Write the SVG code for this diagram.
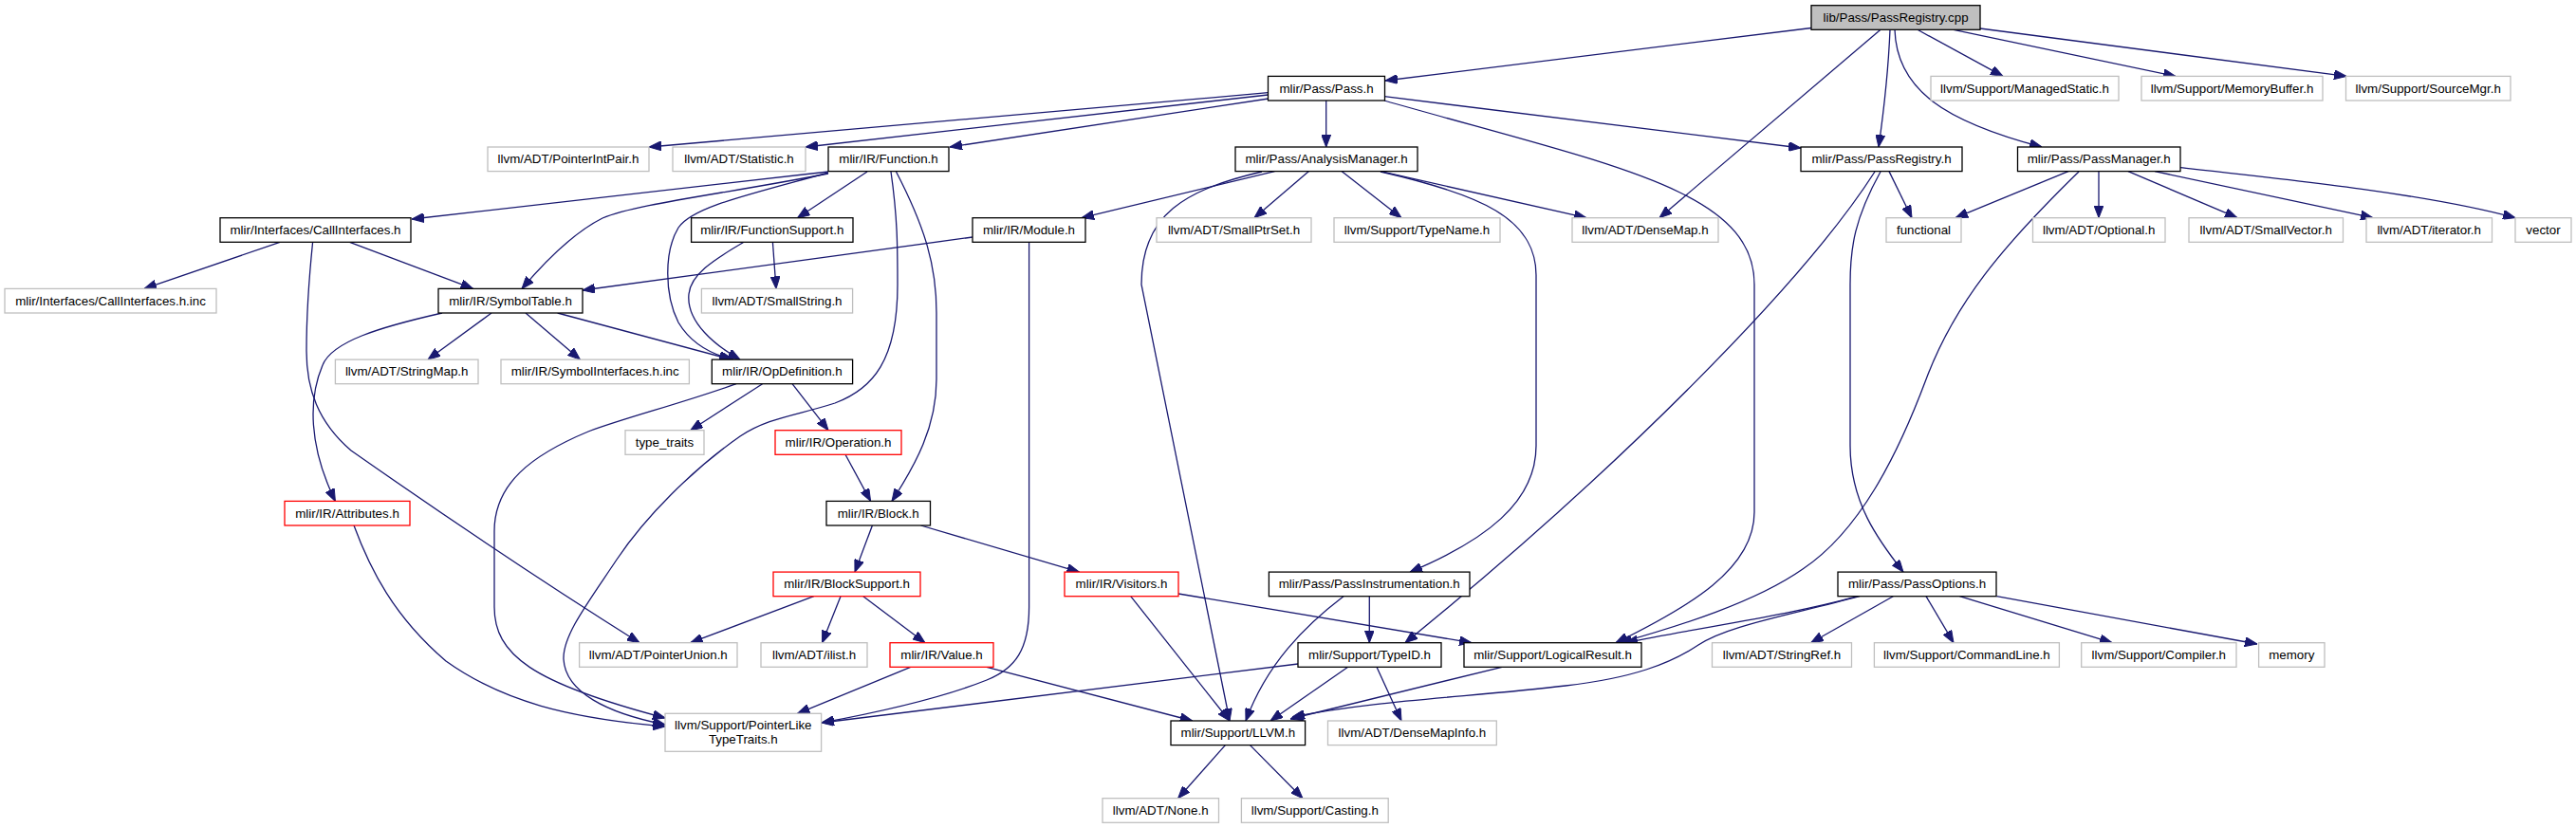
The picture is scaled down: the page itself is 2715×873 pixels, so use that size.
<svg xmlns="http://www.w3.org/2000/svg" width="2715" height="873" viewBox="0 0 2715 873">
<style>
rect{fill:#fff;stroke:#000;stroke-width:1.3}
.ext rect{stroke:#bfbfbf}
.red rect{stroke:#ff0000}
.root rect{fill:#bfbfbf;stroke:#000}
text{font-family:"Liberation Sans",Arial,Helvetica,sans-serif;font-size:13.33px;text-anchor:middle;fill:#000}
#edges path{fill:none;stroke:#191970;stroke-width:1.3;marker-end:url(#ah)}
</style>
<defs>
<marker id="ah" viewBox="0 0 13 10" refX="13" refY="5" markerWidth="13" markerHeight="10" markerUnits="userSpaceOnUse" orient="auto">
<path d="M0,0 L13,5 L0,10 z" fill="#191970" stroke="#191970" stroke-width="1"/>
</marker>
</defs>
<rect x="0" y="0" width="2715" height="873" style="fill:#fff;stroke:none"/>
<g id="edges">
<path d="M1909,29.5 L1460,85"/>
<path d="M1982,31.3 L1749,229.7"/>
<path d="M1992,31.3 C1990,80 1985,120 1980,155"/>
<path d="M1997,31.3 C1999,95 2050,128 2152,155"/>
<path d="M2021,31.3 L2111,80.4"/>
<path d="M2059,31.3 L2293,80.4"/>
<path d="M2087,30 L2473,80.4"/>
<path d="M1336.5,97.7 L684,155"/>
<path d="M1336.5,100 L849,155"/>
<path d="M1337,104 L1001,155"/>
<path d="M1397.7,106 L1397.7,155"/>
<path d="M1459,101.7 L1898,156"/>
<path d="M1459,106 C1700,175 1849,200 1849,300 L1849,540 C1849,600 1780,640 1703,677.7"/>
<path d="M1343.5,180.6 L1140,229.7"/>
<path d="M1379.5,180.6 L1322,229.7"/>
<path d="M1414,180.6 L1477,229.7"/>
<path d="M1455,180.6 L1672,229.7"/>
<path d="M1455,181 C1560,205 1619,230 1619,290 L1619,470 C1619,530 1565,570 1486,603.1"/>
<path d="M1330,181 C1250,200 1203,225 1203,300 L1296,760"/>
<path d="M1991,180.6 L2015,229.7"/>
<path d="M1976,181 C1900,300 1700,500 1481,677.7"/>
<path d="M1982,181 C1955,230 1950,260 1950,300 L1950,470 C1950,530 1980,570 2006,603.1"/>
<path d="M2180,180.6 L2061,229.7"/>
<path d="M2212,180.6 L2212,229.7"/>
<path d="M2243,180.6 L2358,229.7"/>
<path d="M2271,180.6 L2501,229.7"/>
<path d="M2298,176.7 C2420,190 2560,205 2651,229.7"/>
<path d="M2191,181 C2110,260 2060,320 2030,400 C2000,480 1960,560 1900,600 C1850,635 1770,660 1707,677.7"/>
<path d="M873,181 L434,231"/>
<path d="M873,183 C760,205 670,215 635,230 C605,245 575,275 550,304.4"/>
<path d="M873,182 C790,205 730,218 715,240 C700,265 700,310 715,340 C730,365 755,375 773,379.1"/>
<path d="M914,181 L840.5,229.7"/>
<path d="M944.5,181 C975,240 987,280 987,330 L987,400 C987,450 965,490 940,528.4"/>
<path d="M939,181 C946,230 946,260 946,300 C946,380 920,410 880,425 C840,438 810,440 780,460 C730,495 680,545 650,590 C620,635 593,670 594,695 C596,730 640,752 701,764"/>
<path d="M295,255.3 L152,304.4"/>
<path d="M368.6,255.3 L498.7,304.4"/>
<path d="M329.6,255.3 C325,300 323,340 323,370 C323,410 335,445 370,475 C470,545 590,625 674,677.7"/>
<path d="M784,255.3 C750,275 728,290 726,310 C723,340 755,365 780,379.1"/>
<path d="M814.4,255.3 L818,304.4"/>
<path d="M1025,250 L614,306"/>
<path d="M1084.6,255.3 L1084.6,640 C1084.6,685 1070,705 1040,717 C990,737 920,752 866,762"/>
<path d="M466,330 C400,345 350,360 340,385 C325,420 325,470 353.4,528.4"/>
<path d="M518,330 L451,379.1"/>
<path d="M554,330 L611.4,379.1"/>
<path d="M587.6,330 L771,379.1"/>
<path d="M803.6,404.7 L727.7,453.7"/>
<path d="M835,404.7 L873,453.7"/>
<path d="M776,404.7 C720,425 660,440 620,455 C560,480 521,510 521,560 L521,640 C521,690 560,720 701,757"/>
<path d="M891,479.3 L917.6,528.4"/>
<path d="M373,554 C390,600 415,650 470,697 C530,740 600,757 701,766"/>
<path d="M919.4,554 L901,603.1"/>
<path d="M970.5,554 L1137.5,603.1"/>
<path d="M857.8,628.7 L727.7,677.7"/>
<path d="M886,628.7 L866.5,677.7"/>
<path d="M909.8,628.7 L974.9,677.7"/>
<path d="M959.7,703.3 L840.5,752.3"/>
<path d="M1040,703.3 L1256.7,760"/>
<path d="M1191.7,628.7 L1295.8,760"/>
<path d="M1242,626 L1551,677.7"/>
<path d="M1443.3,628.7 L1443.3,677.7"/>
<path d="M1416,628.7 C1375,660 1335,700 1313,760"/>
<path d="M1420.7,703.3 L1339,760"/>
<path d="M1451,703.3 L1477,760"/>
<path d="M1368,700 L866,762"/>
<path d="M1583,703.3 L1360,758"/>
<path d="M1958,628.7 C1880,650 1800,660 1713,677.7"/>
<path d="M1960,628.7 C1880,650 1820,660 1790,680 C1760,700 1720,715 1650,723 C1550,735 1450,738 1362,756"/>
<path d="M1995.3,628.7 L1908.6,677.7"/>
<path d="M2030,628.7 L2059,677.7"/>
<path d="M2065.4,628.7 L2226,677.7"/>
<path d="M2104.4,628.7 L2379,679"/>
<path d="M1291.4,785.6 L1241.6,841.7"/>
<path d="M1317.5,785.6 L1373,841.7"/>
</g>
<g id="n_cpp" class="root"><rect x="1909" y="5.7" width="178" height="25.6"/><text x="1998" y="22.9">lib/Pass/PassRegistry.cpp</text></g>
<g id="n_pass"><rect x="1336.5" y="80.4" width="123" height="25.6"/><text x="1398" y="97.6">mlir/Pass/Pass.h</text></g>
<g id="n_managed" class="ext"><rect x="2035" y="80.4" width="198" height="25.6"/><text x="2134" y="97.6">llvm/Support/ManagedStatic.h</text></g>
<g id="n_membuf" class="ext"><rect x="2257" y="80.4" width="191" height="25.6"/><text x="2352.5" y="97.6">llvm/Support/MemoryBuffer.h</text></g>
<g id="n_srcmgr" class="ext"><rect x="2472.5" y="80.4" width="173.5" height="25.6"/><text x="2559.2" y="97.6">llvm/Support/SourceMgr.h</text></g>
<g id="n_pip" class="ext"><rect x="514" y="155" width="170" height="25.6"/><text x="599" y="172.2">llvm/ADT/PointerIntPair.h</text></g>
<g id="n_stat" class="ext"><rect x="709" y="155" width="140" height="25.6"/><text x="779" y="172.2">llvm/ADT/Statistic.h</text></g>
<g id="n_func"><rect x="873" y="155" width="127" height="25.6"/><text x="936.5" y="172.2">mlir/IR/Function.h</text></g>
<g id="n_am"><rect x="1302" y="155" width="192" height="25.6"/><text x="1398" y="172.2">mlir/Pass/AnalysisManager.h</text></g>
<g id="n_preg"><rect x="1898" y="155" width="170" height="25.6"/><text x="1983" y="172.2">mlir/Pass/PassRegistry.h</text></g>
<g id="n_pm"><rect x="2126.5" y="155" width="171.5" height="25.6"/><text x="2212.2" y="172.2">mlir/Pass/PassManager.h</text></g>
<g id="n_ci"><rect x="232" y="229.7" width="201" height="25.6"/><text x="332.5" y="246.9">mlir/Interfaces/CallInterfaces.h</text></g>
<g id="n_fs"><rect x="728.6" y="229.7" width="170.4" height="25.6"/><text x="813.8" y="246.9">mlir/IR/FunctionSupport.h</text></g>
<g id="n_mod"><rect x="1025" y="229.7" width="119" height="25.6"/><text x="1084.5" y="246.9">mlir/IR/Module.h</text></g>
<g id="n_sps" class="ext"><rect x="1219" y="229.7" width="163" height="25.6"/><text x="1300.5" y="246.9">llvm/ADT/SmallPtrSet.h</text></g>
<g id="n_tn" class="ext"><rect x="1406" y="229.7" width="175" height="25.6"/><text x="1493.5" y="246.9">llvm/Support/TypeName.h</text></g>
<g id="n_dm" class="ext"><rect x="1657" y="229.7" width="154" height="25.6"/><text x="1734" y="246.9">llvm/ADT/DenseMap.h</text></g>
<g id="n_functional" class="ext"><rect x="1988" y="229.7" width="79" height="25.6"/><text x="2027.5" y="246.9">functional</text></g>
<g id="n_opt" class="ext"><rect x="2142.5" y="229.7" width="139.5" height="25.6"/><text x="2212.2" y="246.9">llvm/ADT/Optional.h</text></g>
<g id="n_sv" class="ext"><rect x="2307" y="229.7" width="162.5" height="25.6"/><text x="2388.2" y="246.9">llvm/ADT/SmallVector.h</text></g>
<g id="n_iter" class="ext"><rect x="2494" y="229.7" width="132.5" height="25.6"/><text x="2560.2" y="246.9">llvm/ADT/iterator.h</text></g>
<g id="n_vector" class="ext"><rect x="2651" y="229.7" width="59" height="25.6"/><text x="2680.5" y="246.9">vector</text></g>
<g id="n_cii" class="ext"><rect x="5" y="304.4" width="223" height="25.6"/><text x="116.5" y="321.6">mlir/Interfaces/CallInterfaces.h.inc</text></g>
<g id="n_st"><rect x="462" y="304.4" width="152" height="25.6"/><text x="538" y="321.6">mlir/IR/SymbolTable.h</text></g>
<g id="n_ss" class="ext"><rect x="739.4" y="304.4" width="159.2" height="25.6"/><text x="819" y="321.6">llvm/ADT/SmallString.h</text></g>
<g id="n_sm" class="ext"><rect x="353.4" y="379.1" width="150.6" height="25.6"/><text x="428.7" y="396.3">llvm/ADT/StringMap.h</text></g>
<g id="n_sii" class="ext"><rect x="528" y="379.1" width="198.4" height="25.6"/><text x="627.2" y="396.3">mlir/IR/SymbolInterfaces.h.inc</text></g>
<g id="n_opdef"><rect x="750.3" y="379.1" width="148.3" height="25.6"/><text x="824.4" y="396.3">mlir/IR/OpDefinition.h</text></g>
<g id="n_tt" class="ext"><rect x="659" y="453.7" width="83" height="25.6"/><text x="700.5" y="470.9">type_traits</text></g>
<g id="n_op" class="red"><rect x="817" y="453.7" width="133" height="25.6"/><text x="883.5" y="470.9">mlir/IR/Operation.h</text></g>
<g id="n_attr" class="red"><rect x="300" y="528.4" width="132" height="25.6"/><text x="366" y="545.6">mlir/IR/Attributes.h</text></g>
<g id="n_block"><rect x="871" y="528.4" width="109.5" height="25.6"/><text x="925.7" y="545.6">mlir/IR/Block.h</text></g>
<g id="n_bs" class="red"><rect x="815" y="603.1" width="155" height="25.6"/><text x="892.5" y="620.3">mlir/IR/BlockSupport.h</text></g>
<g id="n_vis" class="red"><rect x="1122" y="603.1" width="120" height="25.6"/><text x="1182" y="620.3">mlir/IR/Visitors.h</text></g>
<g id="n_pi"><rect x="1337.4" y="603.1" width="211.6" height="25.6"/><text x="1443.2" y="620.3">mlir/Pass/PassInstrumentation.h</text></g>
<g id="n_po"><rect x="1937" y="603.1" width="167" height="25.6"/><text x="2020.5" y="620.3">mlir/Pass/PassOptions.h</text></g>
<g id="n_pu" class="ext"><rect x="610.6" y="677.7" width="166.4" height="25.6"/><text x="693.8" y="694.9">llvm/ADT/PointerUnion.h</text></g>
<g id="n_ilist" class="ext"><rect x="802" y="677.7" width="112" height="25.6"/><text x="858" y="694.9">llvm/ADT/ilist.h</text></g>
<g id="n_val" class="red"><rect x="938" y="677.7" width="109" height="25.6"/><text x="992.5" y="694.9">mlir/IR/Value.h</text></g>
<g id="n_tid"><rect x="1368" y="677.7" width="151" height="25.6"/><text x="1443.5" y="694.9">mlir/Support/TypeID.h</text></g>
<g id="n_lr"><rect x="1543" y="677.7" width="187" height="25.6"/><text x="1636.5" y="694.9">mlir/Support/LogicalResult.h</text></g>
<g id="n_sr" class="ext"><rect x="1804.5" y="677.7" width="147" height="25.6"/><text x="1878" y="694.9">llvm/ADT/StringRef.h</text></g>
<g id="n_cl" class="ext"><rect x="1975.4" y="677.7" width="195" height="25.6"/><text x="2072.9" y="694.9">llvm/Support/CommandLine.h</text></g>
<g id="n_comp" class="ext"><rect x="2193.7" y="677.7" width="163.3" height="25.6"/><text x="2275.3" y="694.9">llvm/Support/Compiler.h</text></g>
<g id="n_mem" class="ext"><rect x="2380.6" y="677.7" width="69.4" height="25.6"/><text x="2415.3" y="694.9">memory</text></g>
<g id="n_plt" class="ext"><rect x="701" y="752.3" width="164.6" height="40"/><text x="783.3" y="769.3">llvm/Support/PointerLike</text><text x="783.3" y="783.8">TypeTraits.h</text></g>
<g id="n_llvm"><rect x="1234" y="760" width="141.6" height="25.6"/><text x="1304.8" y="777.2">mlir/Support/LLVM.h</text></g>
<g id="n_dmi" class="ext"><rect x="1399.5" y="760" width="177.8" height="25.6"/><text x="1488.4" y="777.2">llvm/ADT/DenseMapInfo.h</text></g>
<g id="n_none" class="ext"><rect x="1162" y="841.7" width="122.5" height="25.6"/><text x="1223.2" y="858.9">llvm/ADT/None.h</text></g>
<g id="n_cast" class="ext"><rect x="1308.4" y="841.7" width="154.8" height="25.6"/><text x="1385.8" y="858.9">llvm/Support/Casting.h</text></g>
</svg>
